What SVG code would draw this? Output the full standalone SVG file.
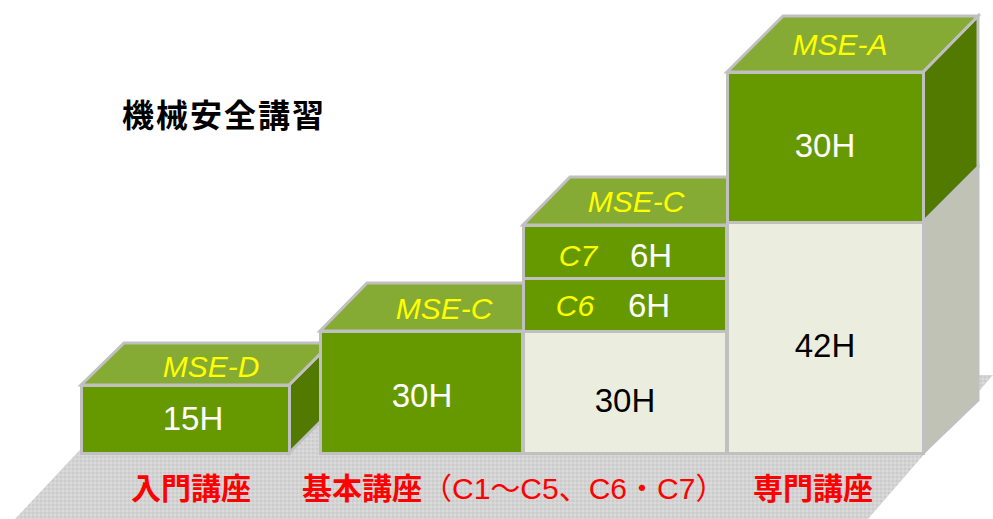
<svg xmlns="http://www.w3.org/2000/svg" width="993" height="519" viewBox="0 0 993 519">
<defs>
<pattern id="floorTex" width="4" height="4" patternUnits="userSpaceOnUse">
<rect width="4" height="4" fill="#d4d4d4"/>
<rect width="2" height="2" fill="#cbcbcb"/>
<rect x="2" y="2" width="2" height="2" fill="#dadada"/>
</pattern>
<style>
.bd{stroke:#c0c0c0;stroke-width:3;stroke-linejoin:miter}
.front{fill:#669900}
.top{fill:#86ab34}
.side{fill:#527a00}
.cream{fill:#ebeedf}
.sidecream{fill:#bfc2b5}
.y{font-family:"Liberation Sans",Arial,sans-serif;font-style:italic;fill:#ffff00;font-size:30px;text-anchor:middle}
.w{font-family:"Liberation Sans",Arial,sans-serif;fill:#ffffff;font-size:33px;text-anchor:middle}
.k{font-family:"Liberation Sans",Arial,sans-serif;fill:#000000;font-size:33px;text-anchor:middle}
.red{font-family:"Liberation Sans","Noto Sans CJK JP",sans-serif;fill:#ff0000;font-size:30px}
</style>
</defs>
<rect width="993" height="519" fill="#ffffff"/>
<g id="floor">
<polygon points="150,375 993,375 868,519 15,519" fill="url(#floorTex)"/>
</g>
<g id="title">
<text x="122" y="127" font-family="'Noto Sans CJK JP',sans-serif" font-weight="bold" font-size="32" letter-spacing="2" fill="#000">機械安全講習</text>
</g>
<g id="box-mse-d">
<polygon class="side bd" points="289,385 331,343 331,411 289,453"/>
<polygon class="top bd" points="81,385 124,343 331,343 289,385"/>
<rect class="front bd" x="81.5" y="385.5" width="208" height="68"/>
<text class="y" x="211" y="377">MSE-D</text>
<text class="w" x="193" y="430">15H</text>
</g>
<g id="box-mse-c-basic">
<polygon class="top bd" points="320,331 367,283 570,283 523,331"/>
<rect class="front bd" x="320.5" y="331.5" width="202" height="122"/>
<text class="y" x="444" y="319">MSE-C</text>
<text class="w" x="422" y="407">30H</text>
</g>
<g id="box-mse-c-column">
<polygon class="top bd" points="523,225 570,177 774,177 726,225"/>
<rect class="cream bd" x="523.5" y="331.5" width="203" height="122"/>
<rect class="front bd" x="523.5" y="278.5" width="203" height="53"/>
<rect class="front bd" x="523.5" y="225.5" width="203" height="53"/>
<text class="y" x="636" y="212">MSE-C</text>
<text class="y" x="578" y="266">C7</text>
<text class="w" x="651" y="267">6H</text>
<text class="y" x="575" y="316">C6</text>
<text class="w" x="649" y="317">6H</text>
<text class="k" x="625" y="412">30H</text>
</g>
<g id="box-mse-a">
<polygon class="sidecream bd" points="923,222 978,167 978,400 923,453"/>
<polygon class="side bd" points="923,72 978,16 978,167 923,222"/>
<polygon class="top bd" points="727,72 783,16 978,16 923,72"/>
<rect class="cream bd" x="727.5" y="222.5" width="196" height="231"/>
<rect class="front bd" x="727.5" y="72.5" width="196" height="150"/>
<text class="y" x="840" y="55">MSE-A</text>
<text class="w" x="825" y="157">30H</text>
<text class="k" x="825" y="357">42H</text>
</g>
<g id="connectors"/>
<g id="labels">
<text class="red" x="131" y="499" font-weight="bold">入門講座</text>
<text class="red" x="302" y="499"><tspan font-weight="bold">基本講座</tspan><tspan>（C1～C5、C6・C7）</tspan></text>
<text class="red" x="753" y="499" font-weight="bold">専門講座</text>
</g>
</svg>
